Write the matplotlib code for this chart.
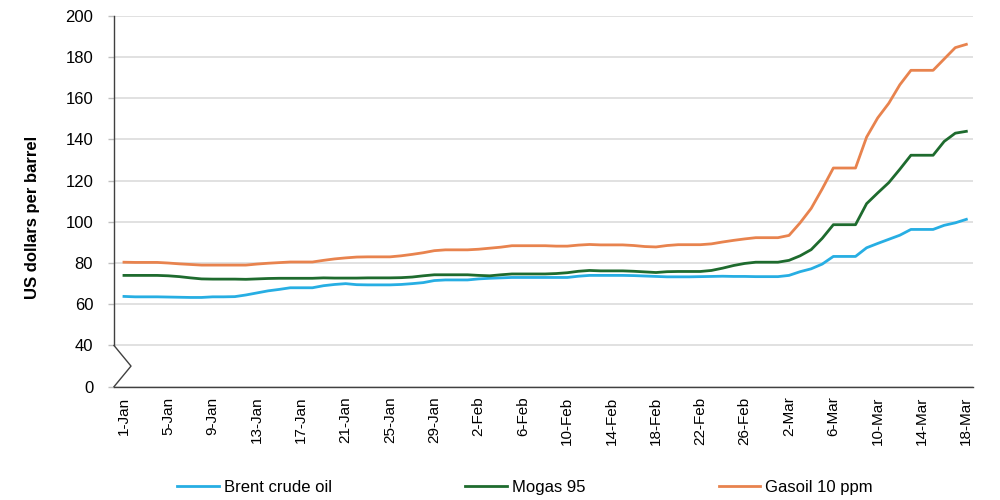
import matplotlib
matplotlib.use("Agg")
import matplotlib.pyplot as plt
import matplotlib.transforms as mtransforms

plt.rcParams['font.family'] = ['Liberation Sans', 'DejaVu Sans']

# ---- data ----
tick_labels = ["1-Jan", "5-Jan", "9-Jan", "13-Jan", "17-Jan", "21-Jan", "25-Jan",
               "29-Jan", "2-Feb", "6-Feb", "10-Feb", "14-Feb", "18-Feb", "22-Feb",
               "26-Feb", "2-Mar", "6-Mar", "10-Mar", "14-Mar", "18-Mar"]

brent = [63.8, 63.6, 63.6, 63.6, 63.5, 63.4, 63.3, 63.3, 63.6, 63.6,
         63.7, 64.5, 65.5, 66.5, 67.2, 68.0, 68.0, 68.0, 69.0, 69.6,
         70.0, 69.5, 69.4, 69.4, 69.4, 69.6, 70.0, 70.5, 71.5, 71.8,
         71.8, 71.8, 72.3, 72.6, 72.8, 73.0, 73.0, 73.0, 73.0, 73.0,
         73.0, 73.6, 74.0, 74.0, 74.0, 74.0, 73.9, 73.7, 73.5, 73.3,
         73.3, 73.3, 73.4, 73.5, 73.6, 73.5, 73.5, 73.4, 73.4, 73.4,
         74.0, 75.8, 77.2, 79.5, 83.2, 83.2, 83.2, 87.4, 89.5, 91.5,
         93.5, 96.3, 96.3, 96.3, 98.3, 99.5, 101.2]

mogas = [74.0, 74.0, 74.0, 74.0, 73.8, 73.4, 72.8, 72.3, 72.2, 72.2,
         72.2, 72.1, 72.3, 72.5, 72.6, 72.6, 72.6, 72.6, 72.8, 72.7,
         72.7, 72.7, 72.8, 72.8, 72.8, 72.9, 73.2, 73.8, 74.3, 74.3,
         74.3, 74.3, 74.0, 73.8, 74.3, 74.7, 74.7, 74.7, 74.7, 74.9,
         75.3, 76.0, 76.4, 76.2, 76.2, 76.2, 76.0, 75.7, 75.4, 75.8,
         75.9, 75.9, 75.9, 76.4, 77.5, 78.8, 79.8, 80.4, 80.4, 80.4,
         81.3, 83.5, 86.5, 92.0, 98.6, 98.6, 98.6, 108.8, 114.0, 119.0,
         125.5, 132.3, 132.3, 132.3, 139.0, 143.0, 143.9]

gasoil = [80.4, 80.3, 80.3, 80.3, 80.0, 79.6, 79.3, 79.0, 79.0, 79.0,
          79.0, 79.0, 79.5, 79.9, 80.2, 80.5, 80.5, 80.5, 81.3, 82.0,
          82.5, 82.9, 83.0, 83.0, 83.0, 83.5, 84.2, 85.0, 86.0, 86.4,
          86.4, 86.4, 86.7, 87.2, 87.7, 88.4, 88.4, 88.4, 88.4, 88.2,
          88.2, 88.7, 89.0, 88.8, 88.8, 88.8, 88.5, 88.0, 87.8, 88.5,
          88.9, 88.9, 88.9, 89.3, 90.2, 91.0, 91.7, 92.3, 92.3, 92.3,
          93.4, 99.5, 106.5, 116.0, 126.1, 126.1, 126.1, 141.1, 150.4, 157.5,
          166.5, 173.5, 173.5, 173.5, 179.0, 184.5, 186.1]

series_names = ["Brent crude oil", "Mogas 95", "Gasoil 10 ppm"]
series_colors = ["#27aee3", "#1e6b2e", "#e8834e"]

# y-axis: broken axis, "0" drawn at the position of 20
ytick_vals = [20, 40, 60, 80, 100, 120, 140, 160, 180, 200]
ytick_text = ["0", "40", "60", "80", "100", "120", "140", "160", "180", "200"]

days = list(range(len(brent)))

fig = plt.figure(figsize=(10, 5), dpi=100)
ax = fig.add_axes([0.114, 0.2266, 0.859, 0.742])

for vals, name, col in zip([brent, mogas, gasoil], series_names, series_colors):
    ax.plot(days, vals, color=col, lw=2.0, label=name, solid_joinstyle='round')

ax.set_xlim(-0.9, 76.6)
ax.set_ylim(20, 200)
ax.set_xticks(days[::4])
ax.set_xticklabels(tick_labels, rotation=90, fontsize=11)
ax.set_yticks(ytick_vals)
ax.set_yticklabels(ytick_text, fontsize=12)

ax.tick_params(axis='x', length=0, pad=7, colors='#000000')
ax.tick_params(axis='y', length=4, width=1, color='#bfbfbf', pad=11)

ax.grid(axis='y', color='#d9d9d9', lw=1.1)
ax.set_axisbelow(True)
for s in ['top', 'right']:
    ax.spines[s].set_visible(False)
ax.spines['bottom'].set_color('#404040')
ax.spines['bottom'].set_linewidth(1.0)
ax.spines['left'].set_color('#404040')
ax.spines['left'].set_linewidth(1.0)
ax.spines['left'].set_bounds(40, 200)

# zigzag break mark on the y axis
trans = mtransforms.blended_transform_factory(ax.transAxes, ax.transData)
ax.plot([0, 0.0198, 0], [40, 30, 20], color='#404040', lw=1.0,
        transform=trans, clip_on=False)

ax.set_ylabel("US dollars per barrel", fontsize=12, fontweight='bold')
ax.yaxis.set_label_coords(-0.086, 0.455)

fig.legend(loc='center', bbox_to_anchor=(0.525, 0.025), ncol=3, frameon=False,
           fontsize=12, handlelength=2.5, columnspacing=8.0, handletextpad=0.3)

fig.savefig("out.png", dpi=100)
